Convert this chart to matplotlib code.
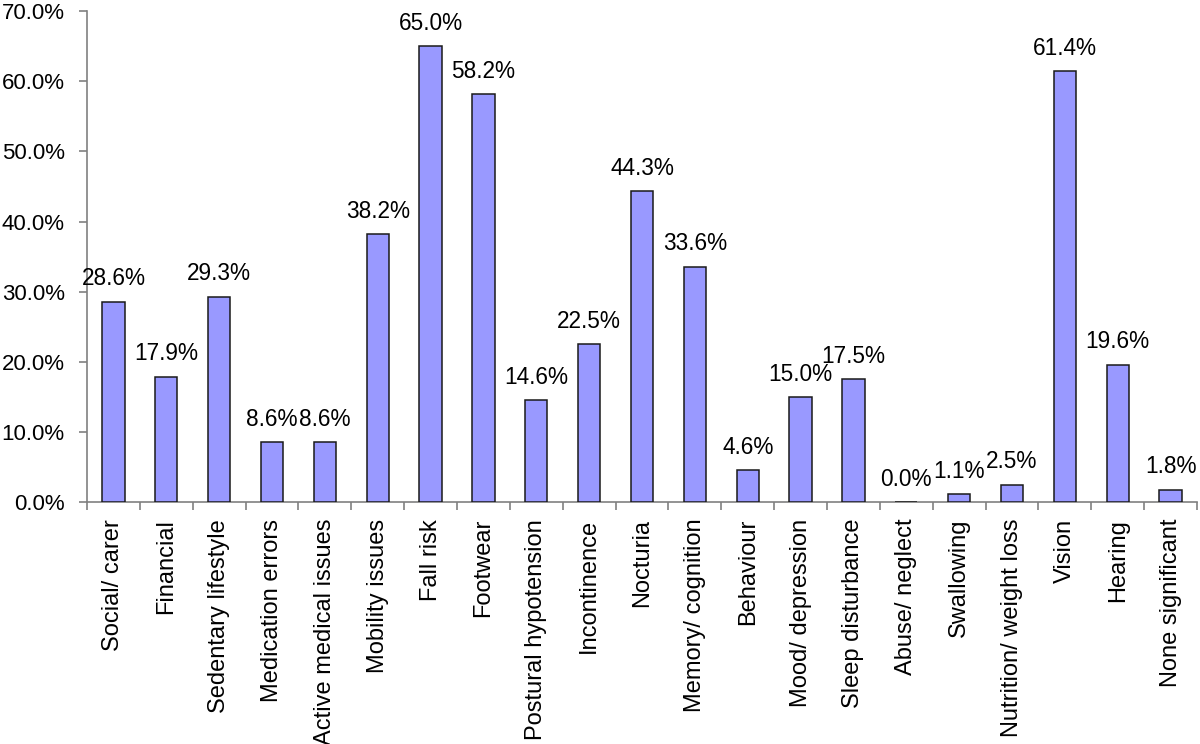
import numpy as np
import matplotlib.pyplot as plt

plt.rcParams['font.family'] = ['Liberation Sans', 'DejaVu Sans']

categories = ['Social/ carer', 'Financial', 'Sedentary lifestyle', 'Medication errors',
              'Active medical issues', 'Mobility issues', 'Fall risk', 'Footwear',
              'Postural hypotension', 'Incontinence', 'Nocturia', 'Memory/ cognition',
              'Behaviour', 'Mood/ depression', 'Sleep disturbance', 'Abuse/ neglect',
              'Swallowing', 'Nutrition/ weight loss', 'Vision', 'Hearing', 'None significant']
values = [28.6, 17.9, 29.3, 8.6, 8.6, 38.2, 65.0, 58.2, 14.6, 22.5, 44.3, 33.6,
          4.6, 15.0, 17.5, 0.0, 1.1, 2.5, 61.4, 19.6, 1.8]
yticks = [0, 10, 20, 30, 40, 50, 60, 70]

fig = plt.figure(figsize=(12, 7.44), dpi=100)
ax = fig.add_axes([0.0725, 0.325, 0.925, 0.66])

x = np.arange(len(categories))
ax.bar(x, values, width=0.42, color='#9999FF', edgecolor='#1a1a1a', linewidth=1.1, zorder=3)

for xi, v in zip(x, values):
    ax.text(xi, v + 1.6, '%.1f%%' % v, ha='center', va='bottom', fontsize=16.3)

ax.set_xlim(-0.5, len(categories) - 0.5)
ax.set_ylim(0, 70)
ax.set_yticks(yticks)
ax.set_yticklabels(['%.1f%%' % t for t in yticks], fontsize=16)

# labels at the centres, tick marks between categories
ax.set_xticks(x)
ax.set_xticklabels(categories, rotation=90, fontsize=17)
ax.tick_params(axis='x', which='major', length=0, pad=12)
ax.set_xticks(np.arange(len(categories) + 1) - 0.5, minor=True)
ax.tick_params(axis='x', which='minor', length=6, color='#808080', width=1.2)
ax.tick_params(axis='y', length=6, color='#808080', width=1.2, pad=10)

for s in ['top', 'right']:
    ax.spines[s].set_visible(False)
for s in ['left', 'bottom']:
    ax.spines[s].set_color('#808080')
    ax.spines[s].set_linewidth(1.2)

fig.savefig('out.png', dpi=100, facecolor='white')
